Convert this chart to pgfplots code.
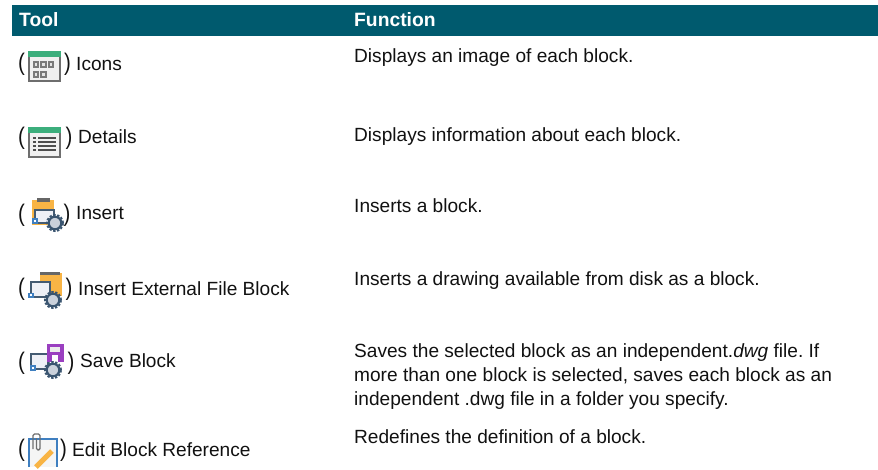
\documentclass[border=0pt]{standalone}
\usepackage{pgfplots}
\pgfplotsset{compat=1.18}
\usepackage{fontspec}
\setmainfont{Liberation Sans}
\definecolor{hdr}{HTML}{005A6E}
\definecolor{grn}{HTML}{3CAE7C}
\definecolor{gborder}{HTML}{6E6E6E}
\definecolor{gin}{HTML}{7A7A7A}
\definecolor{org}{HTML}{F8B445}
\definecolor{gear}{HTML}{3A5570}
\definecolor{blu}{HTML}{3F7FC0}
\definecolor{pur}{HTML}{9A3FC0}
\definecolor{mon}{HTML}{EEF0F6}
\definecolor{txt}{HTML}{111111}
\newcommand{\T}[3]{\node[anchor=base west,inner sep=0pt,text=txt,font=\fontsize{19.1}{21}\selectfont\frenchspacing] at (axis cs:#1,#2) {#3};}
\newcommand{\Par}[3]{\node[anchor=base west,inner sep=0pt,text=txt,font=\fontsize{24}{26}\selectfont\addfontfeature{FakeStretch=0.85}] at (axis cs:#1,#2) {#3};}
\newcommand{\Mon}[4]{\draw[gear!85!gray,line width=1.4pt,fill=mon] (axis cs:#1,#2) rectangle (axis cs:#3,#4);}
\newcommand{\Gear}[2]{\draw[gear,line width=1.8pt,dash pattern=on 2.4pt off 1.6pt] (axis cs:#1,#2) circle[radius=8.1pt]; \draw[gear,line width=2.2pt,fill=mon!80!gear] (axis cs:#1,#2) circle[radius=6.3pt];}
\newcommand{\Corner}[2]{\fill[blu] (axis cs:#1,#2) rectangle (axis cs:#1+5.5,#2+5.5); \fill[white] (axis cs:#1+1.9,#2+1.9) rectangle (axis cs:#1+3.6,#2+3.6);}
\newcommand{\Sq}[2]{\fill[gin] (axis cs:#1,#2) rectangle (axis cs:#1+6.5,#2+7.5); \fill[white!80!gin] (axis cs:#1+2,#2+2) rectangle (axis cs:#1+4.5,#2+5.5);}
\newcommand{\Ln}[1]{\draw[gborder!70!black,line width=1.2pt] (axis cs:33,#1)--(axis cs:36,#1); \draw[gborder!70!black,line width=1.2pt] (axis cs:38,#1)--(axis cs:56,#1);}
\begin{document}
\begin{tikzpicture}
\begin{axis}[at={(0,0)},anchor=south west,width=878pt,height=467pt,scale only axis,
  xmin=0,xmax=878,ymin=0,ymax=467,y dir=reverse,hide axis,clip=false]
\path (axis cs:0,0) rectangle (axis cs:878,467);
\fill[hdr] (axis cs:12,5) rectangle (axis cs:878,36);
\node[anchor=base west,inner sep=0pt,text=white,font=\fontsize{19.3}{21}\selectfont\bfseries] at (axis cs:19,26.5) {Tool};
\node[anchor=base west,inner sep=0pt,text=white,font=\fontsize{19.3}{21}\selectfont\bfseries] at (axis cs:354,26.5) {Function};
% Icons
\Par{18}{70}{(}\Par{64}{70}{)}
\draw[gborder,line width=1.6pt,fill=white!94!black] (axis cs:29,53) rectangle (axis cs:60,81);
\fill[grn] (axis cs:28,51) rectangle (axis cs:61,57);
\Sq{32.5}{60.5}\Sq{40}{60.5}\Sq{47.5}{60.5}
\Sq{32.5}{70.5}\Sq{40}{70.5}
\T{76}{70}{Icons}
% Details
\Par{18}{144}{(}\Par{65.5}{144}{)}
\draw[gborder,line width=1.6pt,fill=white!94!black] (axis cs:29,129) rectangle (axis cs:60,157);
\fill[grn] (axis cs:28,127) rectangle (axis cs:61,133);
\Ln{138}\Ln{142}\Ln{146}\Ln{150}
\T{78}{143}{Details}
% Insert
\Par{18}{221}{(}\Par{63.5}{221}{)}
\fill[org] (axis cs:32,200) rectangle (axis cs:54,225);
\fill[gray!80!black] (axis cs:37,198) rectangle (axis cs:50,202);
\Mon{35}{210}{54}{223}
\Gear{55}{223}
\Corner{32}{218}
\T{76}{219.5}{Insert}
% Insert External
\Par{18}{295}{(}\Par{65.5}{295}{)}
\fill[org] (axis cs:40,273) rectangle (axis cs:62,296);
\fill[gray!80!black] (axis cs:40,272) rectangle (axis cs:60,275);
\Mon{31}{282}{50}{297}
\Gear{53}{300}
\Corner{28}{292.5}
\T{78}{295}{Insert External File Block}
% Save
\Par{18}{369}{(}\Par{67.5}{369}{)}
\Mon{31}{354}{48}{369}
\fill[pur] (axis cs:47,344) rectangle (axis cs:64,362);
\fill[white!85!gray] (axis cs:50,347) rectangle (axis cs:60,352);
\fill[white] (axis cs:52,355) rectangle (axis cs:58,362);
\Gear{53}{370}
\Corner{30}{365}
\T{80}{367}{Save Block}
% Edit
\Par{18}{456}{(}\Par{60}{456}{)}
\fill[white!92!gray] (axis cs:29,440) rectangle (axis cs:57,467);
\draw[blu,line width=2pt] (axis cs:29,467)--(axis cs:29,439)--(axis cs:57,439)--(axis cs:57,467);
\draw[gborder,line width=1.4pt,line join=round,rounded corners=1.5pt] (axis cs:33,449)--(axis cs:33,434)--(axis cs:40,434)--(axis cs:40,450)--(axis cs:36.5,450)--(axis cs:36.5,438);
\draw[org,line width=5pt] (axis cs:52,451)--(axis cs:36,467);
\T{72}{456}{Edit Block Reference}
% Function column
\T{354}{62}{Displays an image of each block.}
\T{354}{141}{Displays information about each block.}
\T{354}{212.5}{Inserts a block.}
\T{354}{285}{Inserts a drawing available from disk as a block.}
\T{354}{357.5}{Saves the selected block as an independent.\textit{dwg} file. If}
\T{354}{381.5}{more than one block is selected, saves each block as an}
\T{354}{405.5}{independent .dwg file in a folder you specify.}
\T{354}{443}{Redefines the definition of a block.}
\end{axis}
\end{tikzpicture}
\end{document}
